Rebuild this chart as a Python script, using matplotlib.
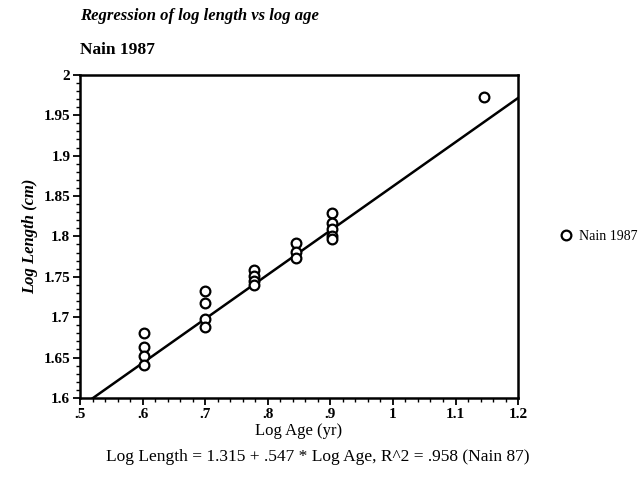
import matplotlib
matplotlib.use("Agg")
import matplotlib.pyplot as plt
from matplotlib.ticker import MultipleLocator, FixedLocator

plt.rcParams['font.family'] = ['Liberation Serif', 'DejaVu Serif']

# log10 of age (yr) and log10 of length (cm)
log_age = [0.602, 0.602, 0.602, 0.602,
           0.699, 0.699, 0.699, 0.699,
           0.778, 0.778, 0.778, 0.778,
           0.845, 0.845, 0.845,
           0.903, 0.903, 0.903, 0.903, 0.903,
           1.146]
log_len = [1.680, 1.663, 1.652, 1.641,
           1.732, 1.718, 1.698, 1.688,
           1.758, 1.751, 1.745, 1.740,
           1.792, 1.781, 1.773,
           1.829, 1.817, 1.809, 1.801, 1.797,
           1.972]

intercept = 1.315
slope = 0.547
x_ticks = [0.5, 0.6, 0.7, 0.8, 0.9, 1.0, 1.1, 1.2]
x_tick_labels = ['.5', '.6', '.7', '.8', '.9', '1', '1.1', '1.2']
y_ticks = [1.6, 1.65, 1.7, 1.75, 1.8, 1.85, 1.9, 1.95, 2.0]
y_tick_labels = ['1.6', '1.65', '1.7', '1.75', '1.8', '1.85', '1.9', '1.95', '2']

fig = plt.figure(figsize=(6.42, 4.8), dpi=100)
ax = fig.add_axes([0.1246, 0.171, 0.6824, 0.673])

ax.plot(log_age, log_len, 'o', mfc='white', mec='black', mew=1.6, ms=7,
        linestyle='none', label='Nain 1987', zorder=3)
xs = [0.5, 1.2]
ax.plot(xs, [intercept + slope * x for x in xs], color='black', lw=1.8, zorder=2)

ax.set_xlim(0.5, 1.2)
ax.set_ylim(1.6, 2.0)
ax.xaxis.set_major_locator(FixedLocator(x_ticks))
ax.set_xticklabels(x_tick_labels)
ax.yaxis.set_major_locator(FixedLocator(y_ticks))
ax.set_yticklabels(y_tick_labels)
ax.xaxis.set_minor_locator(MultipleLocator(0.02))
ax.yaxis.set_minor_locator(MultipleLocator(0.01))
ax.tick_params(which='major', direction='out', length=5, width=1.3, labelsize=11, pad=2)
ax.tick_params(which='minor', direction='out', length=3, width=1.0)
for lbl in ax.get_xticklabels() + ax.get_yticklabels():
    lbl.set_fontweight('bold')
for s in ax.spines.values():
    s.set_linewidth(1.8)

ax.set_xlabel('Log Age (yr)', fontsize=12, labelpad=2)
ax.set_ylabel('Log Length (cm)', fontsize=12, fontstyle='italic', fontweight='bold', labelpad=4)

fig.text(0.1246, 0.967, 'Regression of log length vs log age', fontsize=12,
         fontweight='bold', fontstyle='italic', va='center')
fig.text(0.1246, 0.896, 'Nain 1987', fontsize=12.5, fontweight='bold', va='center')
fig.text(0.495, 0.048, 'Log Length = 1.315 + .547 * Log Age, R^2 = .958 (Nain 87)',
         fontsize=12.5, ha='center', va='center')

ax.legend(loc='center left', bbox_to_anchor=(1.065, 0.5), frameon=False,
          handletextpad=0.4, fontsize=10, handlelength=1.0)

fig.savefig('out.png', dpi=100)
